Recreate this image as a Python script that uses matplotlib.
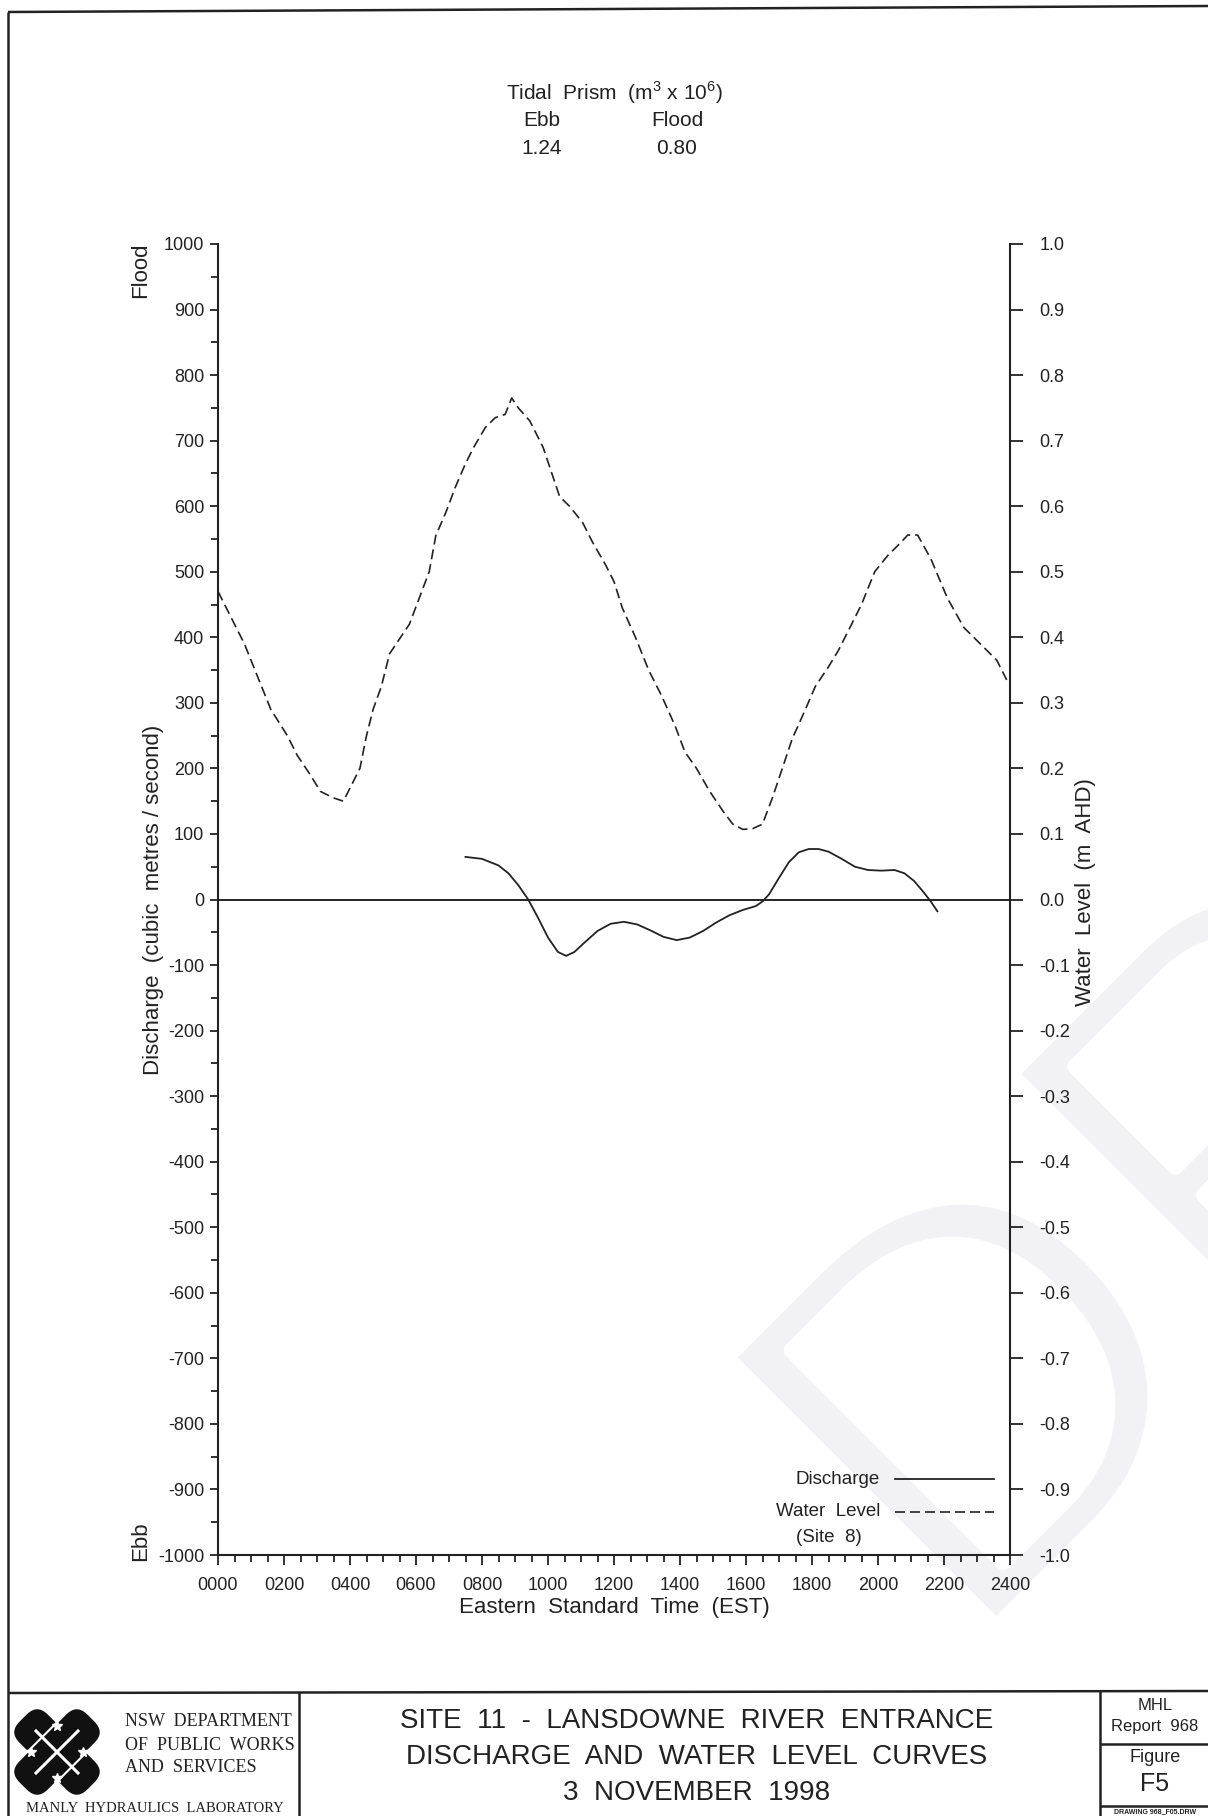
import matplotlib
matplotlib.use('Agg')
import matplotlib.pyplot as plt
import matplotlib.transforms as mtransforms
import matplotlib.patheffects as pe
from matplotlib.patches import FancyBboxPatch
from matplotlib.ticker import MultipleLocator, FuncFormatter

plt.rcParams['font.family'] = ['Liberation Sans', 'DejaVu Sans']
plt.rcParams['mathtext.fontset'] = 'custom'
plt.rcParams['mathtext.rm'] = 'Liberation Sans'
plt.rcParams['axes.unicode_minus'] = False

INK = '#222222'

# water level at site 8 (m AHD), time in hhmm
wl_time = [0, 40, 80, 120, 160, 210, 240, 280, 310, 350, 380, 400, 430, 450, 470,
           495, 520, 540, 580, 610, 640, 660, 690, 720, 750, 775, 810, 840, 870, 890,
           910, 945, 985, 1035, 1065, 1105, 1135, 1175, 1200, 1225, 1265, 1305, 1345,
           1385, 1415, 1450, 1490, 1530, 1560, 1590, 1620, 1650, 1680, 1710, 1740,
           1780, 1810, 1850, 1880, 1910, 1950, 1990, 2030, 2070, 2090, 2120, 2160,
           2210, 2260, 2300, 2330, 2360, 2390]
wl_level = [0.47, 0.43, 0.39, 0.34, 0.29, 0.25, 0.22, 0.19, 0.165, 0.155, 0.15, 0.17,
            0.20, 0.25, 0.29, 0.325, 0.375, 0.39, 0.42, 0.46, 0.50, 0.555, 0.59, 0.63,
            0.665, 0.69, 0.72, 0.735, 0.74, 0.765, 0.75, 0.73, 0.69, 0.615, 0.60, 0.575,
            0.545, 0.51, 0.485, 0.445, 0.40, 0.35, 0.31, 0.265, 0.225, 0.20, 0.165,
            0.135, 0.115, 0.107, 0.108, 0.115, 0.155, 0.20, 0.245, 0.29, 0.325, 0.355,
            0.38, 0.41, 0.45, 0.50, 0.525, 0.545, 0.556, 0.556, 0.52, 0.46, 0.415,
            0.395, 0.38, 0.365, 0.335]

# discharge (m3/s), flood positive
q_time = [750, 800, 850, 880, 910, 940, 970, 1000, 1030, 1055, 1080, 1110, 1150, 1190,
          1230, 1270, 1310, 1350, 1390, 1430, 1470, 1510, 1550, 1590, 1630, 1650, 1670,
          1700, 1730, 1760, 1790, 1820, 1850, 1890, 1930, 1970, 2010, 2050, 2080, 2110,
          2140, 2160, 2180]
q_flow = [65, 62, 52, 40, 22, 0, -28, -58, -80, -86, -80, -66, -48, -37, -34, -38, -47,
          -57, -62, -58, -48, -35, -24, -16, -10, -3, 8, 33, 57, 72, 77, 77, 73, 62, 50,
          45, 44, 45, 40, 28, 10, -3, -18]

prism_ebb = '1.24'
prism_flood = '0.80'

fig = plt.figure(figsize=(12.08, 18.16), dpi=100)

# overlay in pixel coords for frame, text block, watermark
bg = fig.add_axes([0, 0, 1, 1], zorder=0)
bg.set_xlim(0, 1208)
bg.set_ylim(1816, 0)
bg.axis('off')

# faint DRAFT watermark (white stroke thins the letters)
bg.text(964, 1660, 'DRAFT', rotation=45, rotation_mode='anchor', ha='left',
        va='baseline', fontsize=400, color='#f2f2f4', zorder=0,
        path_effects=[pe.Stroke(linewidth=12, foreground='white')])

# page frame + title block
kw = dict(color=INK, lw=1.8, solid_capstyle='butt')
bg.plot([8, 1208], [12, 6], **kw)
bg.plot([8, 8], [12, 1816], **kw)
bg.plot([8, 1208], [1693, 1691], **kw)
bg.plot([299, 299], [1692, 1816], **kw)
bg.plot([1100, 1100], [1691, 1816], **kw)
bg.plot([1100, 1208], [1744, 1744], **kw)
bg.plot([1100, 1208], [1806, 1806], **kw)

# logo (rough)
cx, cy = 57, 1752
for ang in (45, -45):
    band = FancyBboxPatch((cx - 45, cy - 17), 90, 34,
                          boxstyle='round,pad=4,rounding_size=16',
                          fc='#111111', ec='white', lw=1.5)
    band.set_transform(mtransforms.Affine2D().rotate_deg_around(cx, cy, ang) + bg.transData)
    bg.add_patch(band)
bg.plot([cx - 21, cx + 21], [cy - 21, cy + 21], color='white', lw=2.2)
bg.plot([cx - 21, cx + 21], [cy + 21, cy - 21], color='white', lw=2.2)
for dx, dy in [(0, -26), (0, 26), (-26, 0), (26, 0)]:
    bg.plot(cx + dx, cy + dy, marker='*', color='white', ms=7, mec='white')

serif = ['Liberation Serif', 'DejaVu Serif']
for yy, s in [(1722, 'NSW  DEPARTMENT'), (1745, 'OF  PUBLIC  WORKS'), (1768, 'AND  SERVICES')]:
    bg.text(125, yy, s, family=serif, fontsize=13, ha='left', va='center', color=INK)
bg.text(155, 1802, 'MANLY  HYDRAULICS  LABORATORY', family=serif, fontsize=10.5,
        ha='center', va='top', color=INK)

bg.text(697, 1721, 'SITE  11  -  LANSDOWNE  RIVER  ENTRANCE', fontsize=20, ha='center', va='center', color=INK)
bg.text(697, 1757, 'DISCHARGE  AND  WATER  LEVEL  CURVES', fontsize=20, ha='center', va='center', color=INK)
bg.text(697, 1793, '3  NOVEMBER  1998', fontsize=20, ha='center', va='center', color=INK)

bg.text(1155, 1706, 'MHL', fontsize=12, ha='center', va='center', color=INK)
bg.text(1155, 1726, 'Report  968', fontsize=12, ha='center', va='center', color=INK)
bg.text(1155, 1757, 'Figure', fontsize=13, ha='center', va='center', color=INK)
bg.text(1155, 1784, 'F5', fontsize=18, ha='center', va='center', color=INK)
bg.text(1155, 1812, 'DRAWING 968_F05.DRW', fontsize=5, ha='center', va='center',
        color=INK, weight='bold')

# tidal prism header
bg.text(614, 93, 'Tidal  Prism  (m$^3$ x 10$^6$)', fontsize=15, ha='center', va='center', color=INK)
bg.text(542, 120, 'Ebb', fontsize=15, ha='center', va='center', color=INK)
bg.text(677, 120, 'Flood', fontsize=15, ha='center', va='center', color=INK)
bg.text(542, 149, prism_ebb, fontsize=15, ha='center', va='center', color=INK)
bg.text(677, 149, prism_flood, fontsize=15, ha='center', va='center', color=INK)

# axis titles
bg.text(153, 900, 'Discharge  (cubic  metres / second)', rotation=90, fontsize=16,
        ha='center', va='center', color=INK)
bg.text(141, 270, 'Flood', rotation=90, fontsize=16, ha='center', va='center', color=INK)
bg.text(141, 1541, 'Ebb', rotation=90, fontsize=16, ha='center', va='center', color=INK)
bg.text(1086, 892, 'Water  Level  (m  AHD)', rotation=90, fontsize=16,
        ha='center', va='center', color=INK)
bg.text(614, 1607, 'Eastern  Standard  Time  (EST)', fontsize=16, ha='center', va='center', color=INK)

# legend
bg.text(880, 1479, 'Discharge', fontsize=13.5, ha='right', va='center', color=INK)
bg.plot([895, 994], [1479, 1479], color=INK, lw=1.3)
bg.text(880, 1512, 'Water  Level', fontsize=13.5, ha='right', va='center', color=INK)
bg.plot([895, 994], [1512, 1512], color=INK, lw=1.2, dashes=(6, 3))
bg.text(829, 1537, '(Site  8)', fontsize=13.5, ha='center', va='center', color=INK)

# main chart
ax = fig.add_axes([218 / 1208, 1 - 1555 / 1816, (1010 - 218) / 1208, (1555 - 244) / 1816], zorder=2)
ax.patch.set_visible(False)
ax.set_xlim(0, 2400)
ax.set_ylim(-1000, 1000)
ax.axhline(0, color=INK, lw=1.4)
ax.plot(q_time, q_flow, color=INK, lw=1.3)

ax.spines['top'].set_visible(False)
ax.spines['right'].set_visible(False)
for s in ('left', 'bottom'):
    ax.spines[s].set_linewidth(1.5)
    ax.spines[s].set_color(INK)

ax.xaxis.set_major_locator(MultipleLocator(200))
ax.xaxis.set_minor_locator(MultipleLocator(50))
ax.xaxis.set_major_formatter(FuncFormatter(lambda v, p: '%04d' % v))
ax.yaxis.set_major_locator(MultipleLocator(100))
ax.yaxis.set_minor_locator(MultipleLocator(50))
ax.yaxis.set_major_formatter(FuncFormatter(lambda v, p: '%d' % v))
ax.tick_params(axis='both', which='both', direction='out', colors=INK, width=1.3)
ax.tick_params(axis='y', which='major', length=6, pad=4, labelsize=13)
ax.tick_params(axis='y', which='minor', length=5)
ax.tick_params(axis='x', which='major', length=7, pad=9, labelsize=13)
ax.tick_params(axis='x', which='minor', length=5)

ax2 = ax.twinx()
ax2.patch.set_visible(False)
ax2.set_ylim(-1, 1)
ax2.plot(wl_time, wl_level, color=INK, lw=1.2, dashes=(6, 3))
for s in ('top', 'left', 'bottom'):
    ax2.spines[s].set_visible(False)
ax2.spines['right'].set_linewidth(1.5)
ax2.spines['right'].set_color(INK)
ax2.yaxis.set_major_locator(MultipleLocator(0.1))
ax2.yaxis.set_major_formatter(FuncFormatter(lambda v, p: '%.1f' % (round(v, 1) + 0.0)))
ax2.tick_params(axis='y', direction='out', length=9, width=1.3, pad=12, labelsize=13, colors=INK)

fig.savefig('out.png', dpi=100)
